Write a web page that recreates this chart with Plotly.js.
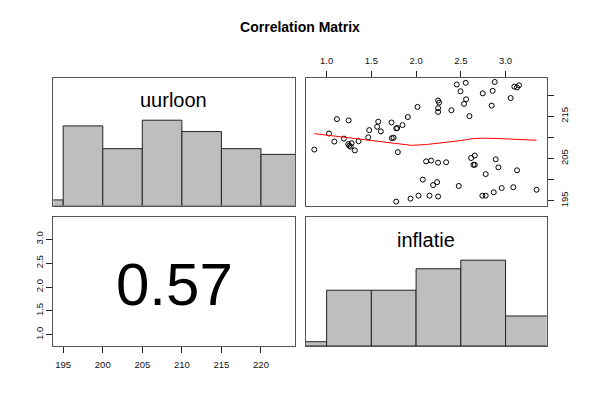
<!DOCTYPE html>
<html>
<head>
<meta charset="utf-8">
<script src="https://cdn.plot.ly/plotly-3.0.1.min.js"></script>
<style>html,body{margin:0;padding:0;background:#fff}#chart{width:600px;height:400px}</style>
</head>
<body>
<div id="chart"></div>
<script>
// ---- data ----
var varNames = ["uurloon", "inflatie"];
var corrText = "0.57";

// histogram of uurloon: bin starts (width 5) and counts
var uurBinStart = [190, 195, 200, 205, 210, 215, 220];
var uurCounts   = [1, 14, 10, 15, 13, 10, 9];
// histogram of inflatie: bin starts (width 0.5) and counts
var infBinStart = [0.5, 1.0, 1.5, 2.0, 2.5, 3.0];
var infCounts   = [1, 13, 13, 18, 20, 7];

// scatter: x = inflatie, y = uurloon
var inflatie = [0.862,1.026,1.086,1.115,1.193,1.246,1.242,1.253,1.268,1.279,1.316,1.357,1.465,1.476,1.565,1.577,1.606,1.725,1.729,1.748,1.778,1.789,1.796,1.848,1.908,2.016,1.778,1.938,2.027,2.075,2.112,2.168,2.150,2.190,2.235,2.246,2.246,2.336,2.246,2.257,2.246,2.246,2.395,2.455,2.496,2.536,2.555,2.559,2.596,2.477,2.615,2.656,2.641,2.656,2.741,2.778,2.778,2.745,2.845,2.856,2.879,2.868,2.890,2.920,2.957,3.057,3.087,3.098,3.128,3.150,3.128,3.347];
var uurloon  = [207.1,210.9,209.0,214.3,209.7,214.0,208.4,208.0,207.8,208.6,206.9,209.1,210.0,211.7,212.5,213.7,211.4,213.5,209.8,209.9,212.1,212.2,206.5,212.9,214.8,217.2,194.8,195.5,196.2,200.0,204.3,204.5,196.2,198.7,199.4,204.0,196.0,204.1,218.7,218.2,216.9,216.0,216.4,222.5,220.9,217.9,222.9,219.0,215.0,198.5,205.1,205.7,203.5,203.5,196.2,196.2,201.3,220.4,217.5,221.0,223.1,197.0,204.8,202.9,198.0,219.3,198.2,222.0,221.8,222.3,202.2,197.6];

// smoothing (loess) curve
var smoothX = [0.862,1.074,1.260,1.446,1.632,1.818,1.949,2.116,2.302,2.488,2.637,2.767,2.935,3.158,3.347];
var smoothY = [210.87,210.3,209.9,209.4,208.8,208.3,208.1,208.3,208.7,209.2,209.7,209.8,209.7,209.5,209.3];

var uurTicks = [195, 200, 205, 210, 215, 220];
var infTicks = [1.0, 1.5, 2.0, 2.5, 3.0];

// ---- layout helpers ----
var W = 600, H = 400;
function px(x){ return x / W; }
function py(y){ return 1 - y / H; }
var col1 = [px(53.3), px(295)], col2 = [px(305.7), px(546.7)];
var row1 = [py(205.6), py(77.5)], row2 = [py(346), py(217.3)];
var uurRange = [193.75, 224.3], infRange = [0.766, 3.46];

function maxOf(a){ return Math.max.apply(null, a); }
function binCenters(starts, w){ return starts.map(function(s){ return s + w/2; }); }
function norm(c){ var m = maxOf(c); return c.map(function(v){ return v / m; }); }

var barStyle = {color: '#BEBEBE', line: {color: '#222', width: 1}};
var traces = [
  {type: 'bar', x: binCenters(uurBinStart, 5), y: norm(uurCounts), width: 5,
   marker: barStyle, xaxis: 'x', yaxis: 'y', hoverinfo: 'skip'},
  {type: 'scatter', mode: 'markers', x: inflatie, y: uurloon, xaxis: 'x2', yaxis: 'y2',
   marker: {symbol: 'circle-open', size: 5, color: '#000', line: {width: 1}}},
  {type: 'scatter', mode: 'lines', x: smoothX, y: smoothY, xaxis: 'x2', yaxis: 'y2',
   line: {color: '#FF0000', width: 1}},
  // empty trace so the lower-left (correlation) panel is created
  {type: 'scatter', mode: 'markers', x: [], y: [], xaxis: 'x3', yaxis: 'y3', hoverinfo: 'skip'},
  {type: 'bar', x: binCenters(infBinStart, 0.5), y: norm(infCounts), width: 0.5,
   marker: barStyle, xaxis: 'x4', yaxis: 'y4', hoverinfo: 'skip'}
];

var tickFont = {family: 'Liberation Sans, Arial, sans-serif', size: 9.5, color: '#111'};
function box(extra){
  var a = {showline: true, mirror: true, linecolor: '#555', linewidth: 1,
           showgrid: false, zeroline: false, showticklabels: false, ticks: '',
           fixedrange: true, tickfont: tickFont};
  for (var k in extra) a[k] = extra[k];
  return a;
}
function fmt(v){ return v.toFixed(1); }

var layout = {
  width: W, height: H, margin: {l: 0, r: 0, t: 0, b: 0},
  paper_bgcolor: '#fff', plot_bgcolor: '#fff', showlegend: false, bargap: 0,
  font: {family: 'Liberation Sans, Arial, sans-serif', color: '#000'},
  title: {text: '<b>Correlation Matrix</b>', x: 0.5, xanchor: 'center', y: py(27.5), yanchor: 'middle',
          font: {size: 14, family: 'Liberation Sans, Arial, sans-serif', color: '#000'}},
  xaxis:  box({domain: col1, range: uurRange, anchor: 'y'}),
  yaxis:  box({domain: row1, range: [0, 1.5], anchor: 'x'}),
  xaxis2: box({domain: col2, range: infRange, anchor: 'y2', side: 'top', ticks: 'outside', ticklen: 6,
               tickcolor: '#222', showticklabels: true, ticklabelstandoff: 3,
               tickvals: infTicks, ticktext: infTicks.map(fmt)}),
  yaxis2: box({domain: row1, range: [193.85, 224.15], anchor: 'x2', side: 'right', ticks: 'outside', ticklen: 6,
               tickcolor: '#222', showticklabels: true, ticklabelstandoff: 3, tickvals: uurTicks,
               ticktext: uurTicks.map(function(v, i){ return i % 2 === 0 ? String(v) : ''; }), tickangle: -90}),
  xaxis3: box({domain: col1, range: uurRange, anchor: 'y3', side: 'bottom', ticks: 'outside', ticklen: 6,
               tickcolor: '#222', showticklabels: true, ticklabelstandoff: 4,
               tickvals: uurTicks, ticktext: uurTicks.map(String)}),
  yaxis3: box({domain: row2, range: infRange, anchor: 'x3', side: 'left', ticks: 'outside', ticklen: 6,
               tickcolor: '#222', showticklabels: true, tickvals: infTicks, ticktext: infTicks.map(fmt), tickangle: -90}),
  xaxis4: box({domain: col2, range: infRange, anchor: 'y4'}),
  yaxis4: box({domain: row2, range: [0, 1.5], anchor: 'x4'}),
  annotations: [
    {text: varNames[0], xref: 'paper', yref: 'paper', x: px(173.7), y: py(100), xanchor: 'center', yanchor: 'middle',
     showarrow: false, font: {size: 20, color: '#000'}},
    {text: varNames[1], xref: 'paper', yref: 'paper', x: px(426.2), y: py(240), xanchor: 'center', yanchor: 'middle',
     showarrow: false, font: {size: 20, color: '#000'}},
    {text: corrText, xref: 'paper', yref: 'paper', x: px(174), y: py(284), xanchor: 'center', yanchor: 'middle',
     showarrow: false, font: {size: 60, color: '#000'}}
  ]
};

Plotly.newPlot('chart', traces, layout, {staticPlot: true, displayModeBar: false});
</script>
</body>
</html>
